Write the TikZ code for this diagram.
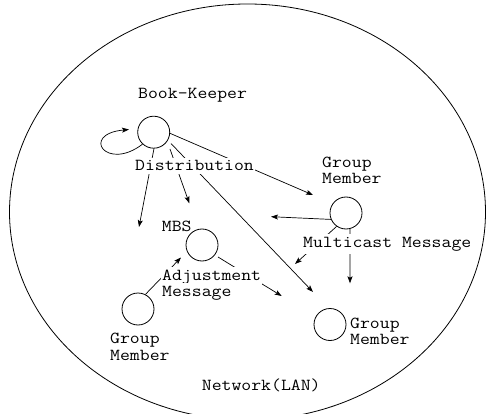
\documentclass[tikz,border=0pt]{standalone}
\usepackage{fontspec}
\newfontfamily\courfont{Latin Modern Mono}[FakeStretch=1.143]
\usetikzlibrary{arrows.meta}
\begin{document}
\begin{tikzpicture}[x=1pt,y=-1pt,
  every node/.style={font=\courfont\fontsize{16.8}{16}\selectfont},
  lbl/.style={anchor=base west, inner sep=0pt},
  mask/.style={lbl, fill=white, inner xsep=1pt, inner ysep=3pt},
  station/.style={circle, draw, line width=0.8pt, minimum size=32pt, inner sep=0pt},
  arr/.style={line width=0.7pt, -{Stealth[length=7pt,width=5pt,inset=1.5pt]}}]
\useasboundingbox (0,0) rectangle (487,414);
\draw[line width=0.8pt] (247.5,212) ellipse [x radius=238pt, y radius=208pt];
% stations
\node[station] (bk) at (153.7,132.2) {};
\node[station] (mbs) at (202,245) {};
\node[station] (gmur) at (346,213) {};
\node[station] (gmll) at (138,309) {};
\node[station] (gmlr) at (330,324.5) {};
% free ends of the connectors
\coordinate (t1) at (139,227);
\coordinate (t2) at (189.3,203.3);
\coordinate (t3) at (313,292);
\coordinate (t4) at (313,195);
\coordinate (tl) at (129,129.5);
\coordinate (tm) at (281.7,296);
\coordinate (tg) at (181,257.5);
\coordinate (ta) at (271,216.7);
\coordinate (tb) at (295,264);
\coordinate (tc) at (350,283.3);
% connectors
\draw[arr] (bk.-89) -- (t1);
\draw[arr] ([shift={(16.3,16.8)}]bk.center) -- (t2);
\draw[arr] ([shift={(17.3,11.3)}]bk.center) -- (t3);
\draw[arr] (bk.-4) -- (t4);
\draw[arr] (bk.-133) .. controls (106,172) and (80,134) .. (tl);
\draw[arr] ([shift={(16,12)}]mbs.center) -- (tm);
\draw[arr] (gmll.63) -- (tg);
\draw[arr] (gmur.-157) -- (ta);
\draw[arr] (gmur.-125) -- (tb);
\draw[arr] (gmur.-76) -- (tc);
% labels
\node[lbl] (bkl) at (138,98.5) {Book-Keeper};
\node[mask] (dist) at (134,171) {Distribution};
\node[lbl] (mbsl) at (161.7,231) {MBS};
\node[mask] (adj1) at (161,280) {Adjustment};
\node[mask] (adj2) at (161,296.7) {Message};
\node[lbl] (gur1) at (322,167.5) {Group};
\node[lbl] (gur2) at (322,183.5) {Member};
\node[mask] (mc) at (302,247) {Multicast Message};
\node[lbl] (gll1) at (110,343.3) {Group};
\node[lbl] (gll2) at (110,360) {Member};
\node[lbl] (glr1) at (350,328.3) {Group};
\node[lbl] (glr2) at (350,344.3) {Member};
\node[lbl] (net) at (201.7,390.5) {Network(LAN)};
\end{tikzpicture}
\end{document}
